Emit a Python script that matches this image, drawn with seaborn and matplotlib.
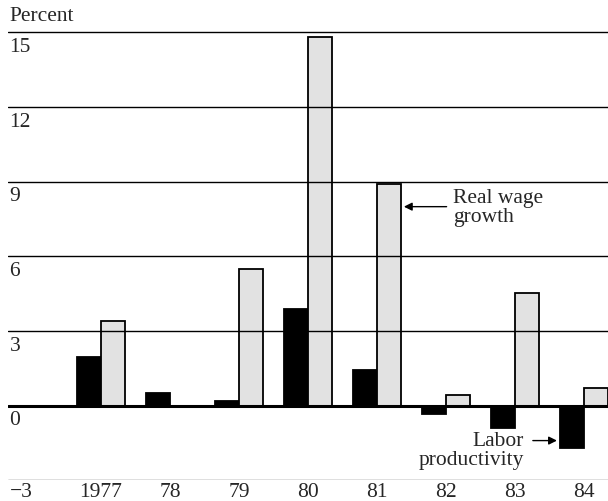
import matplotlib
matplotlib.use("Agg")
import matplotlib.pyplot as plt
import pandas as pd
import seaborn as sns

# values (percent)
years = ["1977", "78", "79", "80", "81", "82", "83", "84"]
labor_productivity = [1.95, 0.5, 0.2, 3.9, 1.45, -0.33, -0.9, -1.7]
real_wage_growth = [3.4, 0.0, 5.5, 14.8, 8.9, 0.45, 4.55, 0.7]
grid_levels = [3, 6, 9, 12, 15]
ytick_labels = ["0", "3", "6", "9", "12", "15"]

df = pd.DataFrame({
    "year": years * 2,
    "series": ["Labor productivity"] * len(years) + ["Real wage growth"] * len(years),
    "value": labor_productivity + real_wage_growth,
})

sns.set_theme(style="white")
plt.rcParams["font.family"] = ["Liberation Serif", "DejaVu Serif"]
FS = 15.5

fig = plt.figure(figsize=(6.08, 5.01), dpi=100)
ax = fig.add_axes([8 / 608, 20.6 / 501, 600 / 608, 455.4 / 501])

sns.barplot(data=df, x="year", y="value", hue="series", order=years,
            palette={"Labor productivity": "black", "Real wage growth": "#e2e2e2"},
            width=0.7, edgecolor="black", linewidth=1.3, saturation=1,
            legend=False, ax=ax, zorder=2)

ax.set_xlim(-1.35, 7.35)
ax.set_ylim(-3, 15.3)
for s in ax.spines.values():
    s.set_visible(False)

# horizontal rules
for g in grid_levels:
    ax.axhline(g, color="black", lw=1.0, zorder=3)
ax.axhline(0, color="black", lw=2.2, zorder=3)
ax.axhline(-3, color="black", lw=0.9, zorder=3)

# y labels sit just under their rules, inside the plot
for lab in ytick_labels:
    v = float(lab)
    ax.text(-1.33, v - 0.22, lab, ha="left", va="top", fontsize=FS)
ax.text(-1.33, 15.45, "Percent", ha="left", va="baseline", fontsize=FS, clip_on=False)

ax.set_yticks([])
ax.set_xticks(range(len(years)))
ax.set_xticklabels(years, fontsize=FS)
ax.tick_params(axis="x", length=0, pad=2)
ax.set_xlabel("")
ax.set_ylabel("")
ax.text(-1.33, -3.12, "\u22123", ha="left", va="top", fontsize=FS)

# annotations
ax.annotate("", xy=(4.35, 8.0), xytext=(5.05, 8.0),
            arrowprops=dict(arrowstyle="-|>", color="black", lw=1.0, mutation_scale=12),
            zorder=4)
ax.text(5.1, 7.95, "Real wage\ngrowth", ha="left", va="center", fontsize=FS,
        linespacing=1.0)
ax.annotate("", xy=(6.65, -1.4), xytext=(6.22, -1.4),
            arrowprops=dict(arrowstyle="-|>", color="black", lw=1.0, mutation_scale=12),
            zorder=4)
ax.text(6.13, -1.8, "Labor\nproductivity", ha="right", va="center", fontsize=FS,
        linespacing=1.0)

fig.savefig("out.png", dpi=100)
